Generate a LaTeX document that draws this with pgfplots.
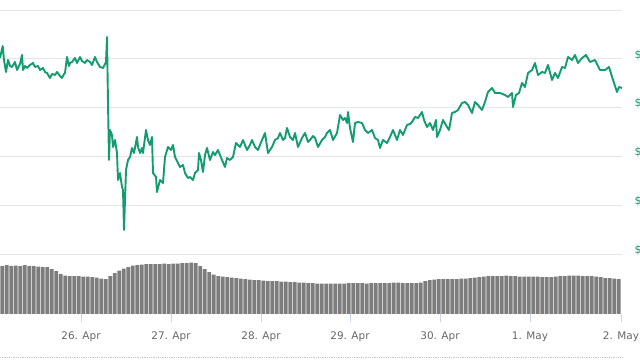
\documentclass[border=0pt]{standalone}
\usepackage{pgfplots}
\usepackage{pgfplotstable}
\pgfplotsset{compat=1.18}
\usepackage{fontspec}
\setmainfont{DejaVu Sans}
\definecolor{pricegreen}{RGB}{20,155,110}
\definecolor{volgray}{RGB}{125,125,125}
\definecolor{gridgray}{RGB}{230,230,230}
\definecolor{labelgray}{RGB}{102,102,102}
\definecolor{tickblue}{RGB}{204,214,235}

\pgfplotstableread{
x y
0 196
2.7 208
4 194
6 182
8 194
10 188
12 187
15 192
17 184
18 186
20 190
22 199
23 184
25 188
27 186
30 189
33 191
35 187
38 188
40 184
43 186
45 182
47 181
50 176
52 180
55 179
57 182
60 178
62 176
64 180
65 181
67 197
69 188
70 191
72 192
75 196
77 191
80 197
82 193
85 191
87 194
90 192
92 189
95 197
97 192
100 187
103 186
106 192
107 217
108 151
109 94
110 124
112 119
113 107
115 114
117 101
118 74
120 81
122 67
123 64
124 24
126 84
128 94
130 97
132 106
134 101
137 117
138 107
140 101
142 106
143 101
146 124
148 114
150 109
152 117
153 81
156 77
157 62
160 74
163 71
165 97
168 107
171 104
173 109
175 97
178 91
180 87
183 89
185 81
188 76
190 77
193 74
195 81
198 84
199 101
201 94
203 82
205 99
207 106
210 94
213 102
215 99
218 104
220 99
222 94
225 87
227 96
230 94
233 97
236 111
240 107
243 114
247 104
250 109
252 114
255 107
258 104
262 114
265 121
268 101
272 107
275 114
278 116
280 121
283 114
285 116
287 126
290 117
293 114
295 121
298 107
302 116
305 121
308 112
310 114
313 118
315 116
318 107
322 114
325 117
327 121
330 124
333 114
337 121
340 139
343 134
345 136
347 131
348 142
350 126
353 112
355 131
358 132
362 131
365 124
368 121
372 124
375 116
378 114
380 106
383 114
387 111
390 117
393 124
397 114
400 124
403 119
407 129
410 130
412 132
415 137
418 136
422 142
424 134
427 127
430 131
433 124
436 134
437 117
440 124
443 134
447 127
449 124
452 141
455 142
458 144
462 151
465 152
468 149
472 141
475 152
478 149
482 144
485 152
488 162
492 166
495 161
500 161
505 159
508 157
512 161
513 147
516 159
519 161
522 171
525 167
528 181
532 184
535 191
538 179
542 182
545 181
548 189
552 174
555 181
558 176
562 187
565 186
568 197
572 194
575 199
578 191
582 196
586 199
590 192
595 194
600 184
605 184
609 187
613 174
617 162
619 167
622 166
}\pricedata

\pgfplotstableread{
x v
2.25 48
6.75 49
11.25 48
15.75 48.5
20.25 48
24.75 49
29.25 48
33.75 48
38.25 47.5
42.75 47
47.25 47
51.75 45
56.25 43
60.75 40
65.25 38.5
69.75 38
74.25 38
78.75 38
83.25 37.5
87.75 37.5
92.25 37
96.75 36.5
101.25 35.5
105.75 35
110.25 38
114.75 41
119.25 43.5
123.75 45.5
128.25 47
132.75 48.5
137.25 49
141.75 49.5
146.25 50
150.75 50
155.25 50
159.75 50
164.25 50.5
168.75 50
173.25 50.5
177.75 50.5
182.25 51
186.75 51
191.25 51.5
195.75 51
200.25 48
204.75 45
209.25 42
213.75 39.5
218.25 38
222.75 37.5
227.25 37
231.75 36.5
236.25 36
240.75 35.5
245.25 35
249.75 34.5
254.25 34
258.75 34
263.25 33.5
267.75 33
272.25 33
276.75 33
281.25 32.5
285.75 32.5
290.25 32
294.75 32
299.25 31.5
303.75 31.5
308.25 31
312.75 31
317.25 30.5
321.75 30.5
326.25 30.5
330.75 30.5
335.25 30.5
339.75 30.5
344.25 30.5
348.75 31
353.25 31
357.75 31
362.25 31
366.75 30.5
371.25 31
375.75 31
380.25 31
384.75 31
389.25 31
393.75 31.5
398.25 31.5
402.75 31
407.25 31
411.75 31
416.25 31
420.75 31.5
425.25 33
429.75 34
434.25 34.5
438.75 35
443.25 35
447.75 35
452.25 35
456.75 35
461.25 35.5
465.75 35.5
470.25 36
474.75 36.5
479.25 37
483.75 37.5
488.25 38
492.75 38
497.25 38
501.75 38
506.25 38.5
510.75 38
515.25 38
519.75 37.5
524.25 37.5
528.75 37.5
533.25 37.5
537.75 37.5
542.25 37
546.75 37
551.25 37
555.75 37.5
560.25 38
564.75 38
569.25 38.5
573.75 38.5
578.25 38.5
582.75 38
587.25 38
591.75 38
596.25 37.5
600.75 37
605.25 36
609.75 36
614.25 35.5
618.75 35
}\voldata

\begin{document}
\begin{tikzpicture}
\useasboundingbox (0,0) rectangle (640bp,360bp);
\begin{axis}[
  at={(0bp,106bp)}, anchor=south west,
  scale only axis, width=622bp, height=244bp,
  xmin=0, xmax=622, ymin=0, ymax=244,
  xtick=\empty,
  ytick={0,48.8,97.6,146.4,195.2,244},
  yticklabels={\$,\$,\$,\$,\$,{}},
  yticklabel pos=right,
  ymajorgrids,
  grid style={gridgray, line width=0.9bp},
  major tick length=0pt,
  axis line style={draw=none},
  yticklabel style={anchor=west, xshift=9bp, yshift=4bp, text=pricegreen, font=\fontsize{11}{13}\selectfont},
  clip=false,
]
\addplot[pricegreen, line width=1.9bp, line join=round] table[x=x,y=y] {\pricedata};
\end{axis}
\begin{axis}[
  at={(0bp,46bp)}, anchor=south west,
  scale only axis, width=622bp, height=62bp,
  xmin=0, xmax=622, ymin=0, ymax=62,
  ytick=\empty,
  xtick={81,171,261,350,440,530,621},
  xticklabels={26. Apr,27. Apr,28. Apr,29. Apr,30. Apr,1. May,2. May},
  xtick pos=left,
  tick align=outside,
  major tick length=8bp,
  xtick style={tickblue, line width=0.8bp},
  axis line style={draw=none},
  xticklabel style={text=labelgray, font=\fontsize{10.5}{12}\selectfont, yshift=-6bp},
]
\addplot[ybar, bar width=3.6, fill=volgray, draw=none] table[x=x,y=v] {\voldata};
\end{axis}
\draw[gridgray!70!gray, densely dotted, line width=0.8bp] (0bp,2.5bp) -- (622bp,2.5bp);
\end{tikzpicture}
\end{document}
